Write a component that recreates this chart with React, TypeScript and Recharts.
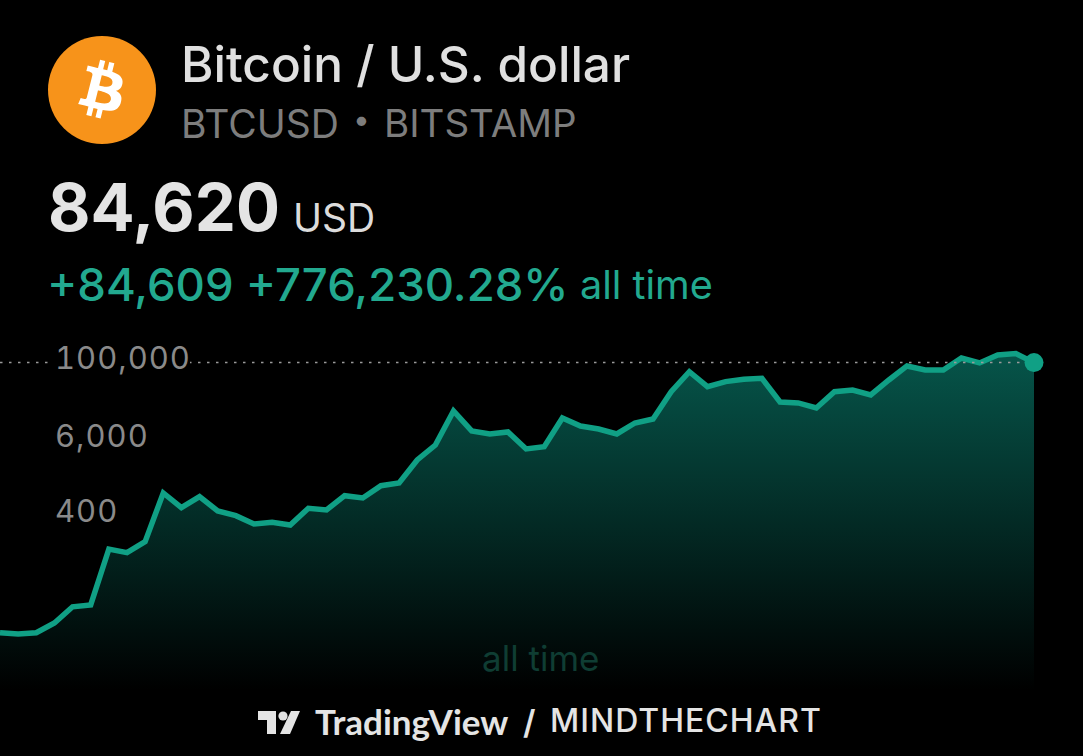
import { Area, ComposedChart, ReferenceDot, ReferenceLine, XAxis, YAxis } from 'recharts';

// closing prices, left to right
const closes = [
  4.94, 4.72, 4.94, 7.02, 12.6, 13.5, 101, 88.8, 132, 766, 451, 670, 400, 337, 250, 266, 241, 441, 415, 695,
  640, 995, 1099, 2518, 4325, 14760, 7178, 6440, 6918, 3750, 4074, 11480, 8590, 7709, 6440, 9572, 11066, 29650,
  60950, 35480, 42560, 46350, 48080, 20420, 19720, 16440, 29650, 31480, 26300, 45190, 74990, 64860, 64860, 100000,
  83560, 111400, 117600, 84620,
];
const priceTicks = [400, 6000, 100000];
const lastPrice = 84620;
const lastPeriod = closes.length - 1;

const chartData = closes.map((close, period) => ({ period, close }));

const GREEN = '#10a085';
const FONT = 'Inter, "Noto Sans", sans-serif';

const PriceTick = ({ y, payload }: any) => {
  const label = payload.value.toLocaleString('en-US');
  return (
    <g>
      {payload.value === 100000 && <rect x={48} y={y - 14} width={142} height={32} fill="#000" />}
      <text
        x={55}
        y={y}
        dy="0.36em"
        fontFamily={FONT}
        fontSize={31}
        letterSpacing={1}
        fill="#8a8a8a"
        style={{ fontVariantNumeric: 'tabular-nums' }}
      >
        {label}
      </text>
    </g>
  );
};

const text = (left: number, top: number, size: number, color: string, weight = 400, extra = {}) => ({
  position: 'absolute' as const,
  left,
  top,
  fontSize: size,
  color,
  fontWeight: weight,
  lineHeight: 1,
  whiteSpace: 'nowrap' as const,
  fontFamily: FONT,
  ...extra,
});

export default function App() {
  return (
    <div style={{ position: 'relative', width: 1083, height: 756, background: '#000', overflow: 'hidden' }}>
      <style>{'body{margin:0;background:#000}'}</style>

      <svg style={{ position: 'absolute', left: 48, top: 36 }} width={108} height={108} viewBox="0 0 4091 4091">
        <circle cx={2045.5} cy={2045.5} r={2045.5} fill="#F7931A" />
        <path
          fill="#fff"
          transform="translate(2045.5 2045.5) scale(0.86) translate(-2045.5 -2045.5)"
          d="M2947.77 1754.38c40.72,-272.26 -166.56,-418.61 -450,-516.24l91.95 -368.8 -224.5 -55.94 -89.51 359.09c-59.02,-14.72 -119.63,-28.59 -179.87,-42.34l90.16 -361.46 -224.36 -55.94 -92 368.68c-48.84,-11.12 -96.81,-22.11 -143.35,-33.69l0.26 -1.16 -309.59 -77.31 -59.72 239.78c0,0 166.56,38.18 163.05,40.53 90.91,22.69 107.35,82.87 104.62,130.57l-104.74 420.15c6.26,1.59 14.38,3.89 23.34,7.49 -7.49,-1.86 -15.46,-3.89 -23.73,-5.87l-146.81 588.57c-11.11,27.62 -39.31,69.07 -102.87,53.33 2.25,3.26 -163.17,-40.72 -163.17,-40.72l-111.46 256.98 292.15 72.83c54.35,13.63 107.61,27.89 160.06,41.3l-92.9 373.03 224.24 55.94 92 -369.07c61.26,16.63 120.71,31.97 178.91,46.43l-91.69 367.33 224.51 55.94 92.89 -372.33c382.82,72.45 670.67,43.24 791.83,-303.02 97.63,-279.02 -4.86,-439.96 -206.45,-544.92 146.82,-33.86 257.41,-130.43 286.91,-329.92zm-512.96 719.26c-69.38,278.78 -538.76,128.08 -690.94,90.29l123.28 -494.2c152.17,37.99 640.17,113.17 567.66,403.91zm69.43 -723.3c-63.29,253.58 -453.96,124.75 -580.69,93.16l111.77 -448.21c126.73,31.59 534.85,90.55 468.92,355.05z"
        />
      </svg>

      <div style={text(181, 40, 49.5, '#e0e0e0', 500)}>Bitcoin / U.S. dollar</div>
      <div style={text(181, 104, 39, '#7d7d7d')}>BTCUSD</div>
      <div style={text(353, 104, 30, '#7d7d7d')}>•</div>
      <div style={text(384, 104, 38.5, '#7d7d7d')}>BITSTAMP</div>
      <div style={text(48, 175, 65.3, '#e4e4e4', 700)}>84,620</div>
      <div style={text(293, 198, 39, '#dcdcdc')}>USD</div>
      <div style={text(47, 262, 45.5, '#22a98f', 500)}>+84,609 +776,230.28%</div>
      <div style={text(580, 266, 39.6, '#22a98f')}>all time</div>

      <div style={{ position: 'absolute', left: 0, top: 0 }}>
        <ComposedChart width={1083} height={756} data={chartData} margin={{ top: 340, right: 49, bottom: 66, left: 0 }}>
          <defs>
            <linearGradient id="areaFill" x1="0" y1="0" x2="0" y2="1">
              <stop offset="0%" stopColor="#06554a" />
              <stop offset="100%" stopColor="#000" />
            </linearGradient>
          </defs>
          <XAxis dataKey="period" type="category" scale="point" padding={{ left: 0, right: 0 }} hide />
          <YAxis
            scale="log"
            domain={[0.625, 191300]}
            ticks={priceTicks}
            allowDataOverflow
            orientation="left"
            mirror
            width={1}
            axisLine={false}
            tickLine={false}
            interval={0}
            tick={<PriceTick />}
          />
          <Area
            type="linear"
            dataKey="close"
            stroke={GREEN}
            strokeWidth={5.5}
            strokeLinejoin="miter"
            fill="url(#areaFill)"
            fillOpacity={1}
            dot={false}
            activeDot={false}
            isAnimationActive={false}
          />
          <ReferenceLine y={lastPrice} stroke="#9a9a9a" strokeWidth={1.5} strokeDasharray="2.5 6.5" />
          <ReferenceDot x={lastPeriod} y={lastPrice} r={9.5} fill={GREEN} stroke="none" />
        </ComposedChart>
      </div>

      <div style={text(482, 641, 35, '#0f3d33')}>all time</div>

      <svg style={{ position: 'absolute', left: 258, top: 711 }} width={42} height={24} viewBox="0 0 42 24">
        <path fill="#e4e4e4" d="M0 0H18V23H9V9H0Z" />
        <circle cx={25} cy={5} r={4.6} fill="#e4e4e4" />
        <path fill="#e4e4e4" d="M33 0H42L32 23H22Z" />
      </svg>
      <div style={text(315, 704, 35, '#e4e4e4', 700, { fontFamily: 'Lato, Inter, sans-serif' })}>TradingView</div>
      <div style={text(523, 706, 33, '#e4e4e4', 600)}>/</div>
      <div style={text(550, 705, 32, '#e4e4e4', 500, { letterSpacing: 1 })}>MINDTHECHART</div>
    </div>
  );
}
